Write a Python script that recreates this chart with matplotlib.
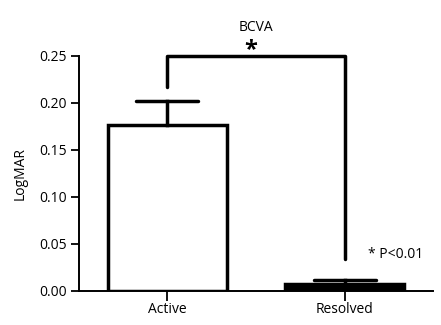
import numpy as np
import matplotlib.pyplot as plt

# data
groups = ["Active", "Resolved"]
means = [0.176, 0.007]
sems = [0.026, 0.005]
bar_faces = ["white", "black"]
bracket_ends = [0.217, 0.034]   # bottom of the significance bracket legs
bracket_top = 0.25

plt.rcParams["font.family"] = ["Open Sans", "DejaVu Sans"]

fig = plt.figure(figsize=(4.41, 3.25), dpi=100)
ax = fig.add_axes([0.179, 0.105, 0.803, 0.723])

LW = 2.5
x = np.arange(len(groups))
ax.bar(x, means, width=0.667, color=bar_faces, edgecolor="black", linewidth=LW, zorder=2)
for xi, m, s in zip(x, means, sems):
    ax.plot([xi, xi], [m, m + s], color="black", lw=LW, zorder=3)
    ax.plot([xi - 0.175, xi + 0.175], [m + s, m + s], color="black", lw=LW,
            solid_capstyle="round", zorder=3)

# significance bracket
ax.plot([x[0], x[0], x[1], x[1]],
        [bracket_ends[0], bracket_top, bracket_top, bracket_ends[1]],
        color="black", lw=LW, clip_on=False, solid_capstyle="round", zorder=4)
ax.text((x[0] + x[1]) / 2 - 0.03, bracket_top + 0.006, "*", ha="center", va="center",
        fontsize=17, fontweight="bold", clip_on=False)
ax.text(1.29, 0.039, "* P<0.01", ha="center", va="center", fontsize=10)

ax.set_title("BCVA", fontsize=10, pad=18)
ax.set_xlim(-0.5, 1.5)
ax.set_ylim(0, 0.25)
ax.set_yticks([0, 0.05, 0.10, 0.15, 0.20, 0.25])
ax.set_yticklabels(["0.00", "0.05", "0.10", "0.15", "0.20", "0.25"])
ax.set_xticks(x)
ax.set_xticklabels(groups)
ax.set_ylabel("LogMAR", fontsize=10, labelpad=8)
ax.tick_params(axis="both", labelsize=10, width=1.3, direction="out")
ax.tick_params(axis="y", length=6, pad=3)
ax.tick_params(axis="x", length=7, pad=1)
ax.spines[["top", "right"]].set_visible(False)
ax.spines[["left", "bottom"]].set_linewidth(1.4)

fig.savefig("out.png", dpi=100, facecolor="white")
